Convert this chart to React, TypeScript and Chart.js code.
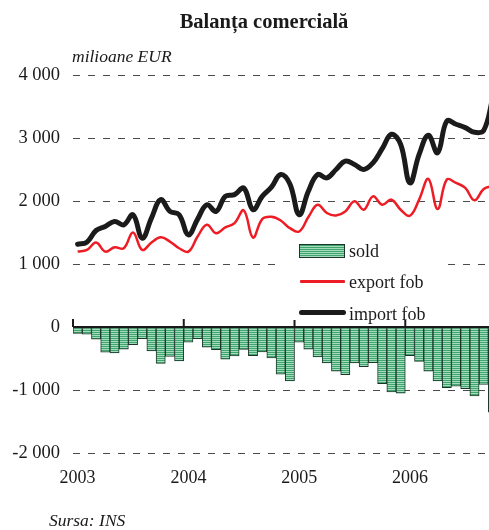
import React, { useEffect, useRef } from "react";
import { Chart, registerables } from "chart.js";

Chart.register(...registerables);

// ---- data ----
const years = ["2003", "2004", "2005", "2006"];
const monthNames = ["ian", "feb", "mar", "apr", "mai", "iun", "iul", "aug", "sep", "oct", "nov", "dec"];
const categories: string[] = [];
for (const y of years) for (const m of monthNames) categories.push(`${m} ${y}`);
categories.length = 46; // ian 2003 .. oct 2006

const soldValues = [
  -100, -115, -195, -400, -410, -350, -280, -185, -380, -580, -465, -540,
  -240, -185, -320, -360, -510, -460, -355, -455, -395, -490, -750, -857,
  -240, -350, -475, -570, -700, -755, -570, -630, -565, -900, -1030, -1050,
  -455, -545, -700, -857, -963, -940, -980, -1095, -910, -1350,
];
const exportValues = [
  1197, 1223, 1340, 1197, 1266, 1250, 1500, 1223, 1340, 1425, 1356, 1250,
  1197, 1436, 1622, 1489, 1580, 1649, 1851, 1420, 1713, 1750, 1691, 1569,
  1516, 1745, 1941, 1809, 1771, 1835, 1995, 1862, 2074, 1941, 2021, 1862,
  1766, 2021, 2351, 1872, 2340, 2287, 2207, 2011, 2190, 2240,
];
const importValues = [
  1314, 1346, 1532, 1596, 1676, 1622, 1782, 1410, 1729, 2021, 1835, 1782,
  1463, 1713, 1941, 1835, 2074, 2101, 2207, 1862, 2074, 2220, 2420, 2270,
  1782, 2154, 2420, 2367, 2500, 2633, 2580, 2500, 2606, 2830, 3059, 2899,
  2287, 2739, 3043, 2766, 3270, 3218, 3165, 3090, 3120, 3650,
];
const yTickValues = [-2000, -1000, 0, 1000, 2000, 3000, 4000];

const SERIF = "'Liberation Serif', 'Times New Roman', serif";
const STRIPE_DARK = "#3fa46d";
const STRIPE_LIGHT = "#a3dcbc";

function fmt(v: number): string {
  const s = Math.abs(v).toString().replace(/\B(?=(\d{3})+(?!\d))/g, " ");
  return (v < 0 ? "-" : "") + s;
}

function makeStripes(): CanvasPattern | string {
  const c = document.createElement("canvas");
  c.width = 4;
  c.height = 2;
  const g = c.getContext("2d");
  if (!g) return "#6cbf90";
  g.fillStyle = STRIPE_DARK;
  g.fillRect(0, 0, 4, 1);
  g.fillStyle = STRIPE_LIGHT;
  g.fillRect(0, 1, 4, 1);
  return g.createPattern(c, "repeat") || "#6cbf90";
}

const yearTicks = {
  id: "yearTicks",
  afterDatasetsDraw(chart: any) {
    const x = chart.scales.x;
    const y = chart.scales.y;
    const ctx = chart.ctx;
    const step = x.getPixelForValue(1) - x.getPixelForValue(0);
    const y0 = y.getPixelForValue(0);
    ctx.save();
    ctx.strokeStyle = "#1a1a1a";
    ctx.lineWidth = 2;
    for (let i = 0; i < categories.length; i += 12) {
      const px = x.getPixelForValue(i) - step / 2;
      ctx.beginPath();
      ctx.moveTo(px, y0 - 8);
      ctx.lineTo(px, y0);
      ctx.stroke();
    }
    ctx.restore();
  },
};

export default function App() {
  const ref = useRef<HTMLCanvasElement>(null);

  useEffect(() => {
    if (!ref.current) return;
    const chart = new Chart(ref.current, {
      type: "bar",
      data: {
        labels: categories,
        datasets: [
          {
            type: "line",
            label: "import fob",
            data: importValues,
            borderColor: "#1b1b1b",
            borderWidth: 5,
            pointRadius: 0,
            tension: 0.4,
            order: 0,
            borderCapStyle: "round",
            borderJoinStyle: "round",
          } as any,
          {
            type: "line",
            label: "export fob",
            data: exportValues,
            borderColor: "#ee1c25",
            borderWidth: 2.5,
            pointRadius: 0,
            tension: 0.4,
            order: 1,
          } as any,
          {
            type: "bar",
            label: "sold",
            data: soldValues,
            backgroundColor: makeStripes() as any,
            borderColor: "#1c3528",
            borderWidth: 1,
            barPercentage: 1,
            categoryPercentage: 1,
            order: 2,
          },
        ],
      },
      options: {
        responsive: false,
        animation: false,
        devicePixelRatio: 1,
        layout: { padding: { top: 75, left: 0, right: 3, bottom: 0 } },
        plugins: {
          legend: { display: false },
          title: { display: false },
          tooltip: { enabled: false },
        },
        scales: {
          x: {
            grid: { display: false, drawTicks: false },
            border: { display: false },
            ticks: {
              autoSkip: false,
              maxRotation: 0,
              padding: 14,
              color: "#1a1a1a",
              font: { family: SERIF, size: 18 },
              callback: (_v: any, i: number) => (i % 12 === 0 ? years[i / 12] : ""),
            },
            afterFit: (s: any) => {
              s.height = 77;
            },
          },
          y: {
            min: -2000,
            max: 4000,
            afterBuildTicks: (s: any) => {
              s.ticks = yTickValues.map((v) => ({ value: v }));
            },
            afterFit: (s: any) => {
              s.width = 73;
            },
            grid: {
              drawTicks: false,
              color: (c: any) => (c.tick && c.tick.value === 0 ? "#1a1a1a" : "#4a4a4a"),
              lineWidth: (c: any) => (c.tick && c.tick.value === 0 ? 2.5 : 1),
            },
            border: {
              display: false,
              dash: (c: any) => (c.tick && c.tick.value === 0 ? [] : [7, 8]),
            } as any,
            ticks: {
              padding: 13,
              color: "#1a1a1a",
              font: { family: SERIF, size: 18.5 },
              callback: (v: any) => fmt(Number(v)),
            },
          },
        },
      },
      plugins: [yearTicks],
    });
    return () => chart.destroy();
  }, []);

  const text = (extra: React.CSSProperties): React.CSSProperties => ({
    position: "absolute",
    fontFamily: SERIF,
    color: "#1a1a1a",
    whiteSpace: "nowrap",
    ...extra,
  });

  return (
    <div
      style={{
        position: "fixed",
        left: 0,
        top: 0,
        width: 489,
        height: 530,
        overflow: "hidden",
        background: "#fff",
      }}
    >
      <canvas ref={ref} width={507} height={530} style={{ position: "absolute", left: 0, top: 0 }} />
      <div
        style={text({
          left: 114,
          width: 300,
          top: 11,
          textAlign: "center",
          fontWeight: "bold",
          fontSize: 20.5,
          lineHeight: "20px",
        })}
      >
        Balanța comercială
      </div>
      <div style={text({ left: 72, top: 48, fontStyle: "italic", fontSize: 17.5, lineHeight: "17px" })}>
        milioane EUR
      </div>
      <div style={text({ left: 49, top: 512, fontStyle: "italic", fontSize: 17.5, lineHeight: "17px" })}>
        Sursa: INS
      </div>
      <div style={{ position: "absolute", left: 278, top: 238, width: 170, height: 82, background: "#fff" }}>
        <div
          style={{
            position: "absolute",
            left: 21,
            top: 6,
            width: 44,
            height: 12,
            border: "1px solid #1c3528",
            background: `repeating-linear-gradient(to bottom, ${STRIPE_DARK} 0px, ${STRIPE_DARK} 1px, ${STRIPE_LIGHT} 1px, ${STRIPE_LIGHT} 2px)`,
          }}
        />
        <div style={text({ left: 71, top: 4, fontSize: 18, lineHeight: "18px" })}>sold</div>
        <div
          style={{ position: "absolute", left: 22, top: 42, width: 45, height: 2.5, background: "#ee1c25", borderRadius: 1 }}
        />
        <div style={text({ left: 71, top: 35, fontSize: 18, lineHeight: "18px" })}>export fob</div>
        <div
          style={{ position: "absolute", left: 21, top: 71.5, width: 47, height: 5, background: "#1b1b1b", borderRadius: 3 }}
        />
        <div style={text({ left: 71, top: 67, fontSize: 18, lineHeight: "18px" })}>import fob</div>
      </div>
    </div>
  );
}
